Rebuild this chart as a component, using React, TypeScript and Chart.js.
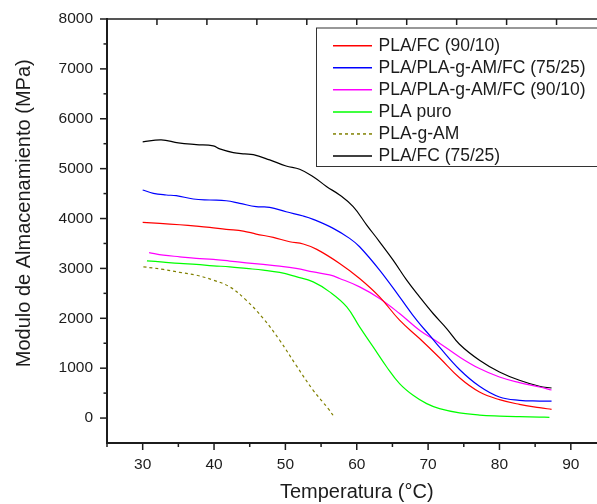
import React, { useEffect, useRef } from "react";
import { Chart, registerables } from "chart.js";

Chart.register(...registerables);

const FONT = '"Liberation Sans", Arial, Helvetica, sans-serif';
const INK = "#1c1c1c";

// ---- data ----
const seriesNames = [
  "PLA/FC (90/10)",
  "PLA/PLA-g-AM/FC (75/25)",
  "PLA/PLA-g-AM/FC (90/10)",
  "PLA puro",
  "PLA-g-AM",
  "PLA/FC (75/25)",
];
const seriesColors = ["#ff0000", "#0000ff", "#ff00ff", "#00ff00", "#808000", "#000000"];
const seriesDashes = [[], [], [], [], [3, 3], []];

const tempRed = [30.0, 32.4, 35.2, 37.5, 39.4, 41.7, 44.1, 45.9, 48.3, 50.6, 52.5, 54.4, 57.6, 60.4, 63.2, 66.0, 68.8, 71.6, 74.4, 77.2, 80.0, 82.8, 85.6, 87.3];
const modRed = [3924, 3903, 3875, 3849, 3823, 3783, 3749, 3689, 3622, 3534, 3490, 3382, 3100, 2799, 2430, 1962, 1594, 1209, 807, 522, 369, 275, 209, 175];

const tempBlue = [30.0, 31.5, 33.3, 34.7, 37.1, 39.4, 41.7, 43.6, 45.9, 47.8, 50.1, 52.5, 53.9, 56.7, 59.0, 60.4, 63.2, 66.0, 68.4, 70.2, 71.6, 74.4, 77.2, 80.0, 82.8, 85.6, 87.3];
const modBlue = [4572, 4506, 4472, 4458, 4392, 4371, 4357, 4305, 4237, 4225, 4136, 4050, 3984, 3803, 3602, 3434, 2966, 2430, 1962, 1661, 1420, 974, 637, 422, 355, 341, 339];

const tempMagenta = [30.9, 32.9, 35.2, 37.5, 39.9, 42.2, 44.5, 46.9, 49.2, 51.5, 53.9, 56.2, 57.6, 60.4, 63.2, 66.0, 68.8, 71.6, 74.4, 77.2, 80.0, 82.8, 85.6, 87.3];
const modMagenta = [3317, 3267, 3233, 3201, 3181, 3147, 3112, 3080, 3046, 3000, 2930, 2870, 2799, 2630, 2398, 2096, 1761, 1502, 1225, 992, 823, 711, 622, 562];

const tempGreen = [30.6, 32.9, 35.2, 37.5, 39.9, 42.2, 44.5, 46.9, 49.2, 51.5, 53.9, 56.2, 58.6, 60.4, 62.3, 64.2, 66.0, 67.9, 69.8, 71.6, 74.4, 77.2, 80.0, 82.8, 85.6, 87.0];
const modGreen = [3153, 3126, 3100, 3080, 3052, 3032, 3000, 2966, 2920, 2835, 2731, 2530, 2229, 1827, 1426, 1024, 691, 456, 289, 189, 104, 60, 40, 28, 20, 14];

const tempOlive = [30.1, 32.9, 35.2, 37.5, 39.9, 42.2, 44.5, 46.9, 49.2, 51.5, 53.9, 56.0, 56.9];
const modOlive = [3032, 2980, 2920, 2865, 2765, 2630, 2363, 1996, 1560, 1058, 556, 189, 10];

const tempBlack = [30.0, 32.6, 35.0, 37.5, 39.9, 40.8, 42.7, 44.3, 45.5, 47.8, 50.1, 52.0, 53.9, 55.8, 57.6, 59.5, 61.4, 63.2, 65.1, 67.0, 68.8, 70.7, 72.6, 74.4, 77.2, 80.0, 82.8, 85.6, 87.3];
const modBlack = [5536, 5576, 5516, 5482, 5456, 5396, 5321, 5295, 5281, 5175, 5054, 4988, 4839, 4638, 4472, 4237, 3869, 3534, 3167, 2765, 2430, 2096, 1795, 1480, 1159, 924, 757, 637, 602];

const xTickLabels = ["30", "40", "50", "60", "70", "80", "90"];
const yTickLabels = ["0", "1000", "2000", "3000", "4000", "5000", "6000", "7000", "8000"];
const xTitle = "Temperatura (°C)";
const yTitle = "Modulo de Almacenamiento (MPa)";

const temps = [tempRed, tempBlue, tempMagenta, tempGreen, tempOlive, tempBlack];
const mods = [modRed, modBlue, modMagenta, modGreen, modOlive, modBlack];

const framePlugin = {
  id: "originFrame",
  afterDraw(chart: any) {
    const { ctx, chartArea: ca, scales } = chart;
    const x = scales.x;
    const y = scales.y;
    const x2 = scales.x2;
    const line = (x1: number, y1: number, xx: number, yy: number) => {
      ctx.beginPath();
      ctx.moveTo(x1, y1);
      ctx.lineTo(xx, yy);
      ctx.stroke();
    };
    ctx.save();
    ctx.strokeStyle = INK;
    ctx.setLineDash([]);
    ctx.lineWidth = 1.5;
    // y ticks (outward)
    y.ticks.forEach((t: any) => {
      const v = t.value;
      if (v <= y.min) return;
      const py = y.getPixelForValue(v);
      const len = v % 1000 === 0 ? 7 : 3.5;
      line(ca.left - len, py, ca.left, py);
    });
    // x ticks (outward)
    x.ticks.forEach((t: any) => {
      const v = t.value;
      const px = x.getPixelForValue(v);
      const len = v % 10 === 0 ? 7 : 4;
      line(px, ca.bottom, px, ca.bottom + len);
    });
    // top axis ticks (inward)
    x2.ticks.forEach((t: any) => {
      const v = t.value;
      if (v <= x2.min || v >= x2.max) return;
      const px = x2.getPixelForValue(v);
      line(px, ca.top, px, ca.top + 6);
    });
    // axis lines
    ctx.lineWidth = 2;
    line(ca.left, ca.top - 1, ca.left, ca.bottom + 1);
    line(ca.left - 1, ca.bottom, ca.right, ca.bottom);
    ctx.lineWidth = 1.6;
    line(ca.left, ca.top, ca.right, ca.top);

    // y title
    ctx.save();
    ctx.fillStyle = INK;
    ctx.font = `20px ${FONT}`;
    ctx.translate(30, 213.3);
    ctx.rotate(-Math.PI / 2);
    ctx.textAlign = "center";
    ctx.textBaseline = "alphabetic";
    ctx.fillText(yTitle, 0, 0);
    ctx.restore();

    // legend
    const lx = 316;
    const ly = 27.5;
    const lh = 138.5;
    ctx.fillStyle = "#ffffff";
    ctx.fillRect(lx, ly, 400, lh);
    ctx.strokeStyle = "#333333";
    ctx.lineWidth = 1;
    ctx.strokeRect(lx + 0.5, ly + 0.5, 400, lh);
    chart.data.datasets.forEach((ds: any, i: number) => {
      const yy = 45.7 + i * 22.06;
      ctx.strokeStyle = ds.borderColor;
      ctx.lineWidth = 1.5;
      ctx.setLineDash(ds.borderDash || []);
      line(333, yy, 372, yy);
      ctx.setLineDash([]);
      ctx.fillStyle = INK;
      ctx.font = `17.5px ${FONT}`;
      ctx.textAlign = "left";
      ctx.textBaseline = "middle";
      ctx.fillText(ds.label, 378.5, yy + 0.5);
    });
    ctx.restore();
  },
};

export default function App() {
  const ref = useRef<HTMLCanvasElement | null>(null);

  useEffect(() => {
    if (!ref.current) return;
    const chart = new Chart(ref.current, {
      type: "line",
      data: {
        datasets: seriesNames.map((label, i) => ({
          label,
          data: temps[i].map((t, k) => ({ x: t, y: mods[i][k] })),
          borderColor: seriesColors[i],
          backgroundColor: seriesColors[i],
          borderWidth: 1.2,
          borderDash: seriesDashes[i],
          pointRadius: 0,
          fill: false,
          tension: 0.4,
        })),
      },
      options: {
        animation: false,
        responsive: false,
        devicePixelRatio: 1,
        events: [],
        layout: { padding: { left: 0, top: 19, right: 33.5, bottom: 0 } },
        plugins: { legend: { display: false }, tooltip: { enabled: false } },
        scales: {
          x: {
            type: "linear",
            position: "bottom",
            min: 25,
            max: 95,
            ticks: {
              stepSize: 5,
              autoSkip: false,
              maxRotation: 0,
              padding: 5,
              color: INK,
              font: { family: FONT, size: 15.5 },
              callback: (v: any) => (xTickLabels.includes(String(v)) ? String(v) : ""),
            },
            grid: { display: false, drawTicks: true, tickLength: 7 },
            border: { display: false },
            title: {
              display: true,
              text: xTitle,
              color: INK,
              font: { family: FONT, size: 20 },
              padding: { top: 0, bottom: 0 },
            },
            afterFit: (s: any) => {
              s.height = 61;
            },
          },
          x2: {
            type: "linear",
            position: "top",
            min: 0,
            max: 10,
            ticks: { display: false, stepSize: 1 },
            grid: { display: false, drawTicks: false },
            border: { display: false },
            afterFit: (s: any) => {
              s.height = 0;
            },
          },
          y: {
            type: "linear",
            min: -500,
            max: 8000,
            ticks: {
              stepSize: 500,
              autoSkip: false,
              padding: 7,
              color: INK,
              font: { family: FONT, size: 15.5 },
              callback: (v: any) => (yTickLabels.includes(String(v)) ? String(v) : ""),
            },
            grid: { display: false, drawTicks: true, tickLength: 7 },
            border: { display: false },
            afterFit: (s: any) => {
              s.width = 107;
            },
          },
        },
      } as any,
      plugins: [framePlugin],
    });
    return () => chart.destroy();
  }, []);

  return (
    <div
      style={{
        position: "fixed",
        left: 0,
        top: 0,
        width: 597,
        height: 504,
        overflow: "hidden",
        background: "#ffffff",
      }}
    >
      <canvas ref={ref} width={640} height={504} style={{ display: "block", width: 640, height: 504 }} />
    </div>
  );
}
